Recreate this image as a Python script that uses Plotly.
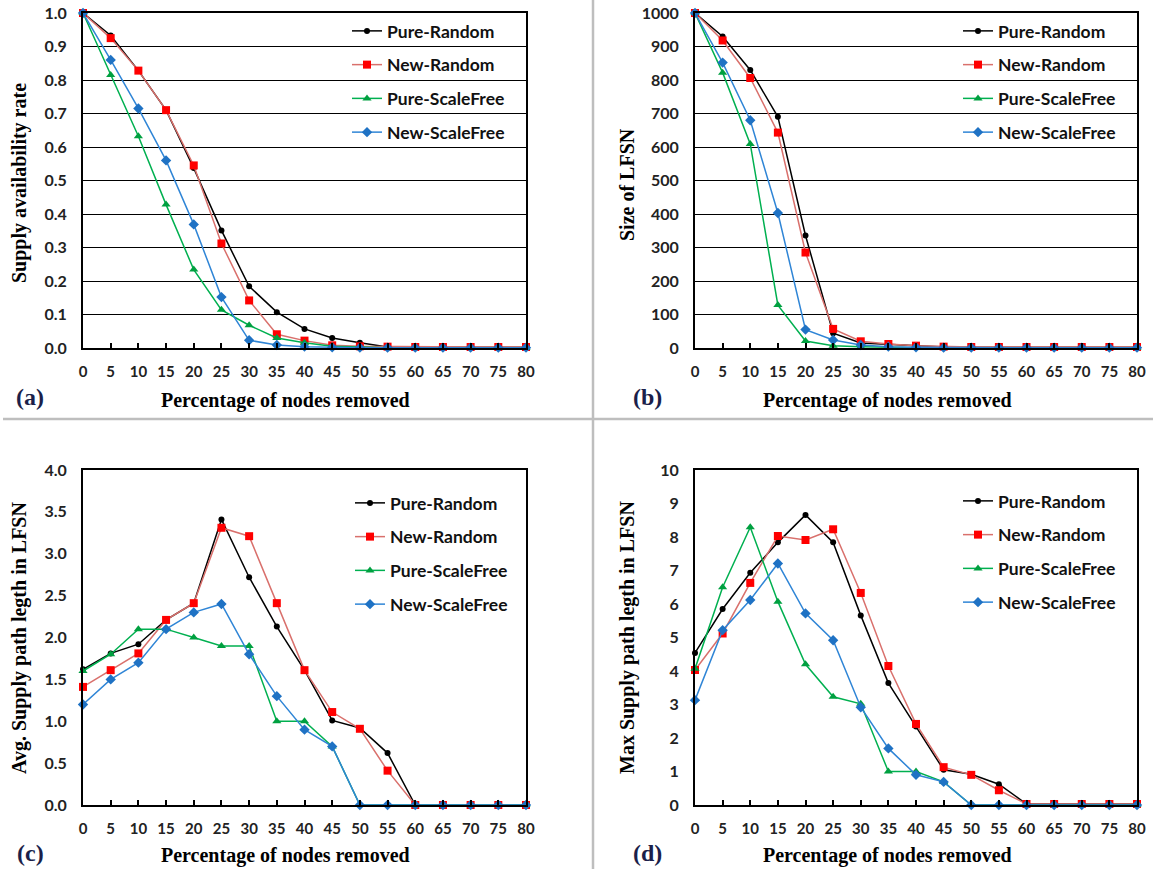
import plotly.graph_objects as go

W, H = 1153, 869

x_pct = [0, 5, 10, 15, 20, 25, 30, 35, 40, 45, 50, 55, 60, 65, 70, 75, 80]
series_names = ["Pure-Random", "New-Random", "Pure-ScaleFree", "New-ScaleFree"]

# (a) Supply availability rate
a_pure_random = [1.0, 0.933, 0.828, 0.71, 0.537, 0.351, 0.184, 0.107, 0.057, 0.030, 0.016, 0.003, 0.002, 0.002, 0.002, 0.002, 0.002]
a_new_random = [1.0, 0.925, 0.828, 0.71, 0.545, 0.312, 0.142, 0.041, 0.022, 0.008, 0.005, 0.004, 0.003, 0.003, 0.003, 0.003, 0.003]
a_pure_sf = [1.0, 0.815, 0.632, 0.428, 0.234, 0.114, 0.068, 0.030, 0.016, 0.005, 0.002, 0.001, 0, 0, 0, 0, 0]
a_new_sf = [1.0, 0.86, 0.715, 0.56, 0.369, 0.152, 0.023, 0.009, 0.004, 0.002, 0.001, 0.001, 0.001, 0.001, 0.001, 0.001, 0.001]

# (b) Size of LFSN
b_pure_random = [1000, 930, 830, 690, 336, 44, 15, 11, 6, 3, 2, 2, 2, 2, 2, 2, 2]
b_new_random = [1000, 918, 806, 643, 285, 57, 20, 12, 7, 4, 3, 3, 3, 3, 3, 3, 3]
b_pure_sf = [1000, 822, 609, 128, 21, 7, 4, 2, 1, 1, 1, 1, 1, 1, 1, 1, 1]
b_new_sf = [1000, 852, 680, 403, 55, 24, 9, 4, 2, 1, 1, 1, 1, 1, 1, 1, 1]

# (c) Avg. supply path length in LFSN
c_pure_random = [1.62, 1.81, 1.92, 2.21, 2.41, 3.41, 2.72, 2.13, 1.61, 1.01, 0.92, 0.62, 0, 0, 0, 0, 0]
c_new_random = [1.41, 1.61, 1.81, 2.21, 2.41, 3.31, 3.21, 2.41, 1.61, 1.11, 0.91, 0.41, 0, 0, 0, 0, 0]
c_pure_sf = [1.60, 1.80, 2.10, 2.10, 2.00, 1.90, 1.90, 1.00, 1.00, 0.70, 0, 0, 0, 0, 0, 0, 0]
c_new_sf = [1.20, 1.50, 1.70, 2.10, 2.30, 2.40, 1.80, 1.30, 0.90, 0.70, 0, 0, 0, 0, 0, 0, 0]

# (d) Max supply path length in LFSN
d_pure_random = [4.54, 5.85, 6.93, 7.84, 8.66, 7.84, 5.66, 3.64, 2.34, 1.05, 0.92, 0.62, 0.03, 0.03, 0.03, 0.03, 0.03]
d_new_random = [4.03, 5.12, 6.63, 8.03, 7.91, 8.23, 6.33, 4.15, 2.42, 1.13, 0.90, 0.44, 0.03, 0.03, 0.03, 0.03, 0.03]
d_pure_sf = [4.07, 6.50, 8.29, 6.07, 4.20, 3.23, 3.02, 1.00, 1.00, 0.69, 0, 0, 0, 0, 0, 0, 0]
d_new_sf = [3.13, 5.22, 6.12, 7.21, 5.72, 4.92, 2.92, 1.69, 0.90, 0.69, 0, 0, 0, 0, 0, 0, 0]

panel_data = [
    [a_pure_random, a_new_random, a_pure_sf, a_new_sf],
    [b_pure_random, b_new_random, b_pure_sf, b_new_sf],
    [c_pure_random, c_new_random, c_pure_sf, c_new_sf],
    [d_pure_random, d_new_random, d_pure_sf, d_new_sf],
]
y_titles = ["Supply availability rate", "Size of LFSN",
            "Avg. Supply path legth in LFSN", "Max Supply path legth in LFSN"]
x_title = "Percentage of nodes removed"
panel_labels = ["(a)", "(b)", "(c)", "(d)"]
y_ranges = [[0, 1], [0, 1000], [0, 4], [0, 10]]
y_dticks = [0.1, 100, 0.5, 1]
y_formats = [".1f", "d", ".1f", "d"]
show_grid = [True, True, False, False]

line_colors = ["#000000", "#D9706C", "#00B050", "#2F85D6"]
marker_colors = ["#000000", "#FF0000", "#00A040", "#1F72C4"]
marker_symbols = ["circle", "square", "triangle-up", "diamond"]
marker_sizes = [6, 8, 8, 8]

# pixel geometry of each panel: (left, right, top, bottom)
px_boxes = [(83, 526, 13, 348), (695, 1137, 13, 348), (83, 526, 470, 805), (695, 1137, 470, 805)]
legend_pos = [(347, 13), (958, 13), (350, 485), (958, 483)]
ytitle_pos = [(19, 183), (627, 185), (19, 638), (627, 638)]
xtitle_pos = [(285, 400), (887, 400), (285, 855), (887, 855)]
label_pos = [(30, 397), (647, 397), (30, 853), (647, 853)]

fig = go.Figure()
layout = dict(width=W, height=H, margin=dict(l=0, r=0, t=0, b=0, pad=0, autoexpand=False),
              paper_bgcolor="white", plot_bgcolor="white", showlegend=True)
annotations = []

for p in range(4):
    sfx = "" if p == 0 else str(p + 1)
    L, R, T, B = px_boxes[p]
    for s in range(4):
        fig.add_trace(go.Scatter(
            x=x_pct, y=panel_data[p][s], name=series_names[s],
            mode="lines+markers", xaxis="x" + sfx, yaxis="y" + sfx,
            legend="legend" + sfx, legendgroup=f"p{p}s{s}",
            line=dict(color=line_colors[s], width=1.5),
            marker=dict(symbol=marker_symbols[s], size=marker_sizes[s],
                        color=marker_colors[s], line=dict(width=0)),
            cliponaxis=False,
        ))
    layout["xaxis" + sfx] = dict(
        domain=[L / W, R / W], anchor="y" + sfx, range=[0, 80], dtick=5, tick0=0,
        showgrid=False, zeroline=False, showline=True, mirror=True, automargin=False,
        linecolor="black", linewidth=2, ticks="inside", ticklen=5, tickwidth=1.5,
        tickcolor="black", ticklabelstandoff=9,
        tickfont=dict(family="Lato", size=15, color="#222222", weight="bold"),
        fixedrange=True,
    )
    layout["yaxis" + sfx] = dict(
        domain=[1 - B / H, 1 - T / H], anchor="x" + sfx, range=y_ranges[p],
        dtick=y_dticks[p], tick0=0, tickformat=y_formats[p], automargin=False,
        showgrid=show_grid[p], gridcolor="black", gridwidth=1.2,
        zeroline=False, showline=True, mirror=True, linecolor="black", linewidth=2,
        ticks="", ticklabelstandoff=11,
        tickfont=dict(family="Lato", size=16, color="#222222", weight="bold"),
        fixedrange=True,
    )
    lx, ly = legend_pos[p]
    layout["legend" + sfx] = dict(
        x=lx / W, y=1 - ly / H, xanchor="left", yanchor="top",
        bgcolor="rgba(0,0,0,0)", borderwidth=0, traceorder="grouped",
        tracegroupgap=8,
        font=dict(family="Lato", size=17.5, color="#111111", weight="bold"),
    )
    tx, ty = ytitle_pos[p]
    annotations.append(dict(text=y_titles[p], x=tx / W, y=1 - ty / H, xref="paper", yref="paper",
                            textangle=-90, showarrow=False, xanchor="center", yanchor="middle",
                            font=dict(family="Liberation Serif", size=20, color="black", weight="bold")))
    tx, ty = xtitle_pos[p]
    annotations.append(dict(text=x_title, x=tx / W, y=1 - ty / H, xref="paper", yref="paper",
                            showarrow=False, xanchor="center", yanchor="middle",
                            font=dict(family="Liberation Serif", size=20, color="black", weight="bold")))
    tx, ty = label_pos[p]
    annotations.append(dict(text=panel_labels[p], x=tx / W, y=1 - ty / H, xref="paper", yref="paper",
                            showarrow=False, xanchor="center", yanchor="middle",
                            font=dict(family="Liberation Serif", size=24, color="#1B1F4A", weight="bold")))

layout["annotations"] = annotations
layout["shapes"] = [
    dict(type="line", xref="paper", yref="paper", x0=3 / W, x1=1, y0=1 - 419 / H, y1=1 - 419 / H,
         line=dict(color="#BEBEBE", width=2.5)),
    dict(type="line", xref="paper", yref="paper", x0=593 / W, x1=593 / W, y0=0, y1=1,
         line=dict(color="#BEBEBE", width=2.5)),
]
fig.update_layout(**layout)
fig.write_html("out.html")
